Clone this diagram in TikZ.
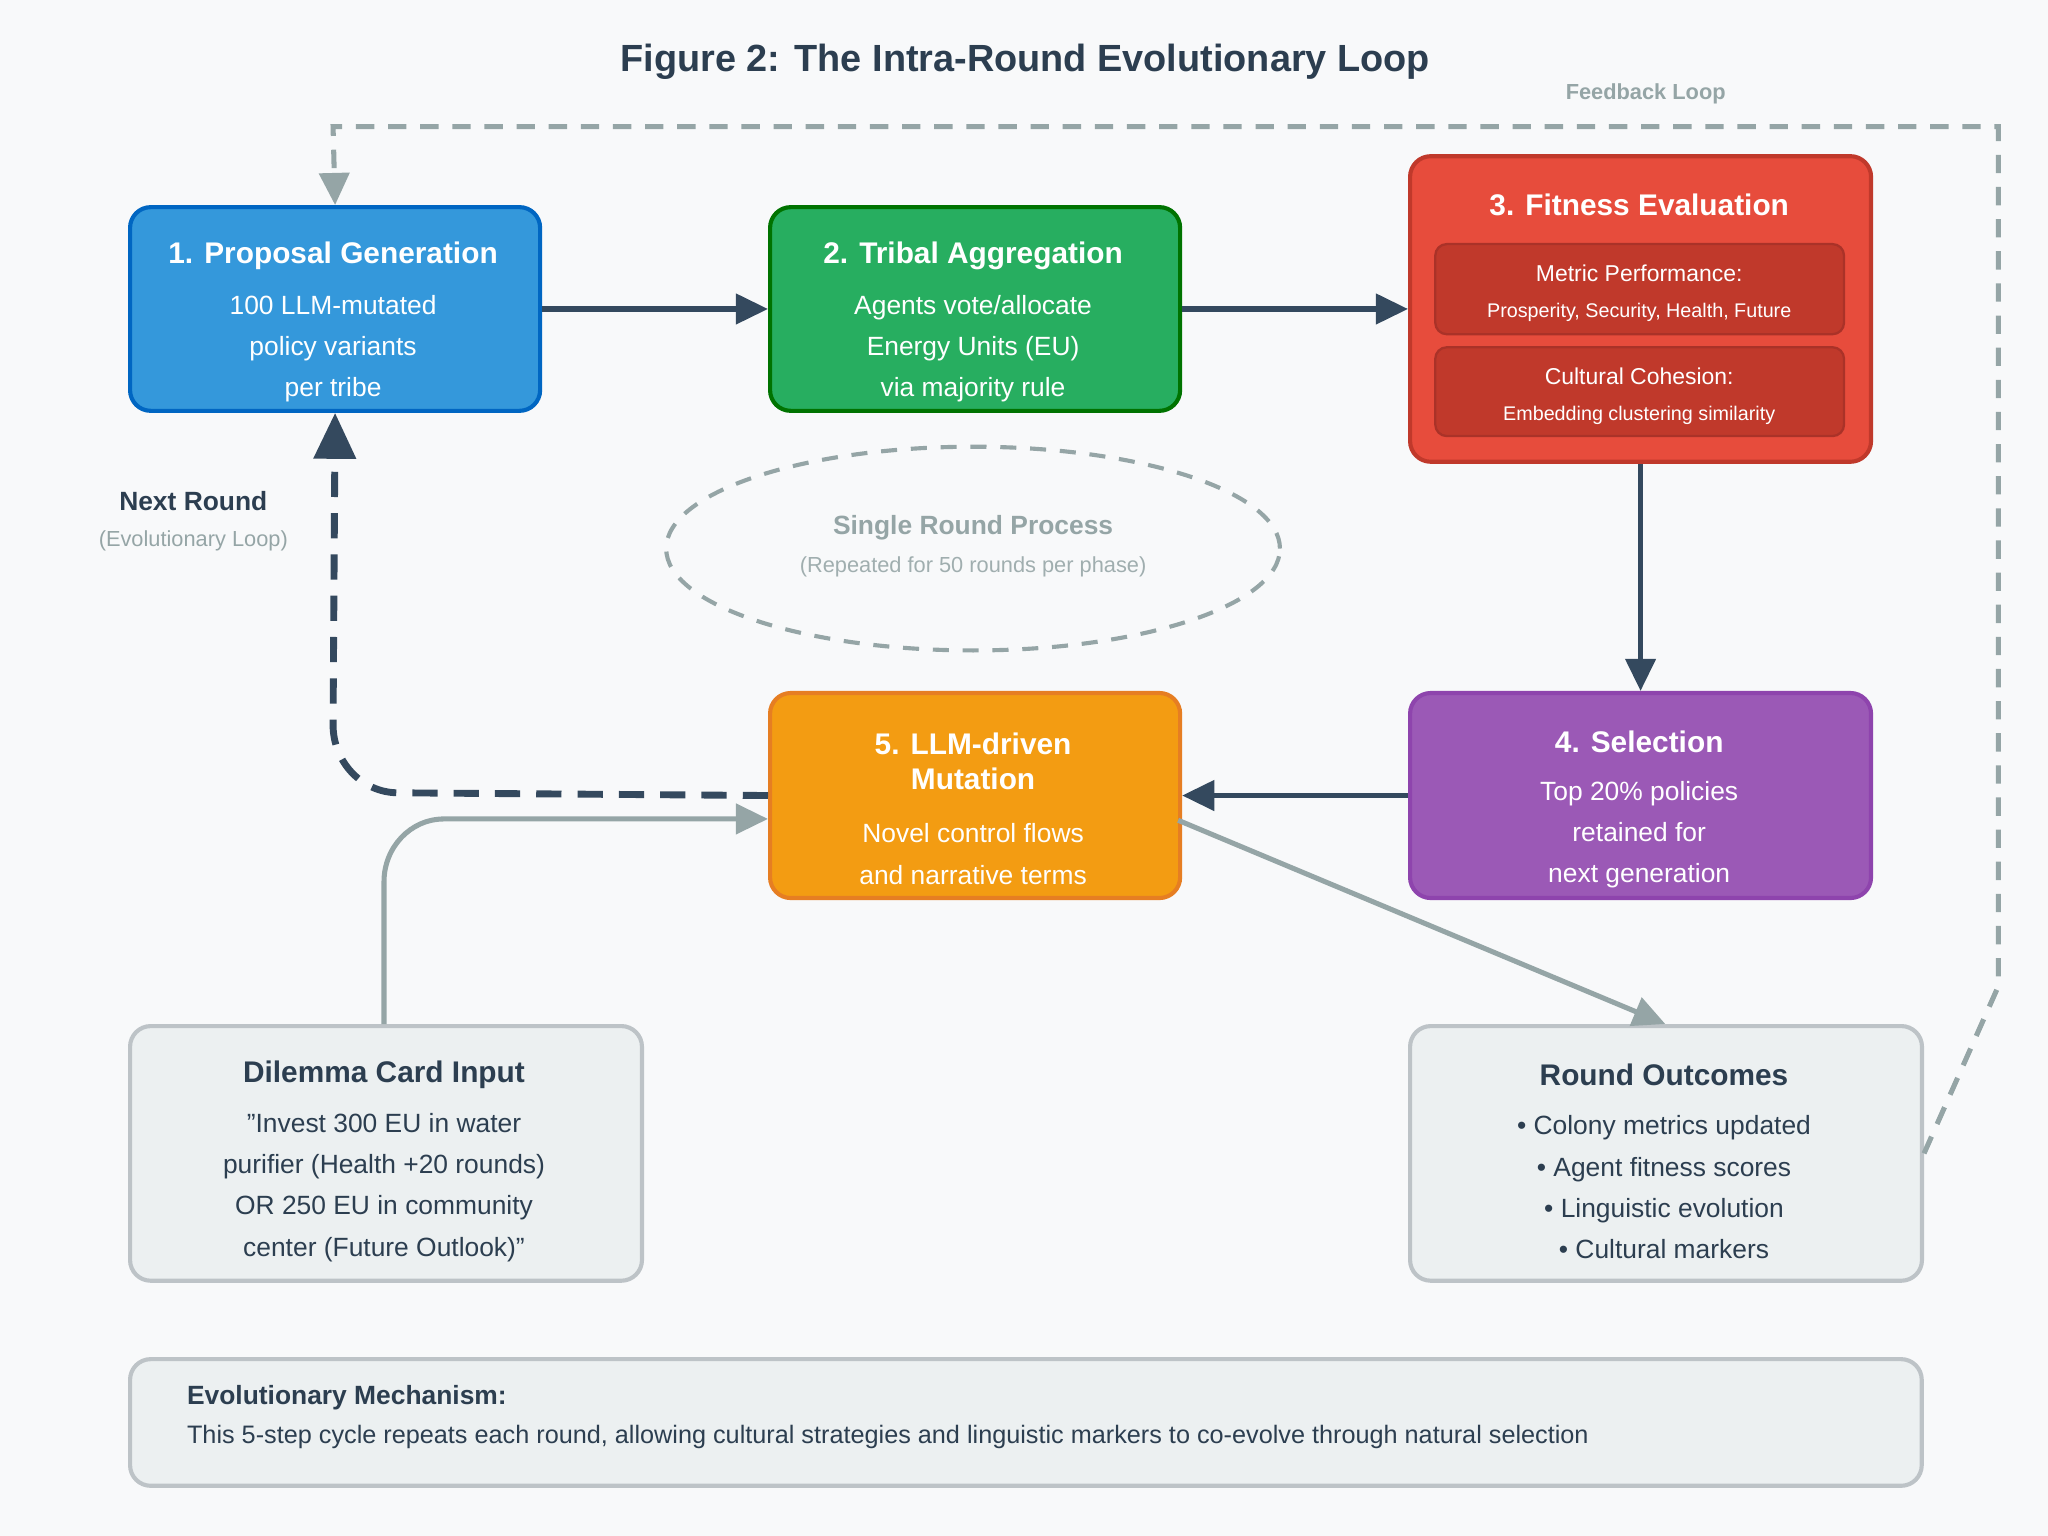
\documentclass[tikz,border=0pt]{standalone}
\usepackage{fontspec}
\setmainfont{Liberation Sans}
\usetikzlibrary{arrows.meta,positioning,calc,shapes.geometric}
\definecolor{bg}{HTML}{F8F9FA}
\definecolor{ink}{HTML}{2C3E50}
\definecolor{arr}{HTML}{34495E}
\definecolor{mute}{HTML}{95A5A6}
\definecolor{pale}{HTML}{ECF0F1}
\definecolor{paleb}{HTML}{BDC3C7}
\tikzset{
  step box/.style = {draw, line width=1.8pt, rounded corners=9pt, text=white, align=center, anchor=north west},
  grey box/.style = {draw=paleb, fill=pale, line width=1.8pt, rounded corners=9pt, text=ink, align=center, anchor=north west},
  inner box/.style = {draw=red!60!black!70, fill=red!55!black!50!red, line width=1pt, rounded corners=5pt, anchor=north west},
  flow/.style = {draw=arr, line width=2.2pt, -{Triangle[length=14pt,width=13pt]}},
  soft/.style = {draw=mute, line width=2.2pt, -{Triangle[length=14pt,width=13pt]}}
}
\begin{document}
\begin{tikzpicture}[x=0.02cm,y=-0.02cm]
\fill[bg] (0,0) rectangle (1568,1176);
\node[text=ink,font=\fontsize{16.5}{19}\selectfont\bfseries] (title) at (785,47) {Figure 2: The Intra-Round Evolutionary Loop};

% steps
\node[step box, draw=blue!60!black!60!cyan, fill={rgb,255:red,52;green,152;blue,219}, minimum width=6.28cm, minimum height=3.12cm] (prop) at (98,157) {};
\node[step box, draw=green!45!black, fill={rgb,255:red,39;green,174;blue,96}, minimum width=6.28cm, minimum height=3.12cm] (trib) at (588,157) {};
\node[step box, draw={rgb,255:red,192;green,57;blue,43}, fill={rgb,255:red,231;green,76;blue,60}, minimum width=7.06cm, minimum height=4.68cm] (fit) at (1078,118) {};
\node[step box, draw={rgb,255:red,142;green,68;blue,173}, fill={rgb,255:red,155;green,89;blue,182}, minimum width=7.06cm, minimum height=3.14cm] (sel) at (1078,529) {};
\node[step box, draw={rgb,255:red,230;green,126;blue,34}, fill={rgb,255:red,243;green,156;blue,18}, minimum width=6.28cm, minimum height=3.14cm] (mut) at (588,529) {};
\node[inner box, draw={rgb,255:red,170;green,50;blue,40}, fill={rgb,255:red,192;green,57;blue,43}, minimum width=6.26cm, minimum height=1.38cm] (met) at (1098,186) {};
\node[inner box, draw={rgb,255:red,170;green,50;blue,40}, fill={rgb,255:red,192;green,57;blue,43}, minimum width=6.26cm, minimum height=1.36cm] (coh) at (1098,265) {};

\tikzset{hd/.style={text=white,font=\fontsize{13}{15}\selectfont\bfseries,align=center},
         bd/.style={text=white,font=\fontsize{11.5}{15}\selectfont,align=center}}
\node[hd] at (255,196) {1. Proposal Generation};
\node[bd] at (255,267) {100 LLM-mutated\\[3pt]policy variants\\[3pt]per tribe};
\node[hd] at (745,196) {2. Tribal Aggregation};
\node[bd] at (745,267) {Agents vote/allocate\\[3pt]Energy Units (EU)\\[3pt]via majority rule};
\node[hd] at (1255,157) {3. Fitness Evaluation};
\node[bd,font=\fontsize{10}{12}\selectfont] at (1255,209) {Metric Performance:};
\node[bd,font=\fontsize{8.6}{10}\selectfont] at (1255,239) {Prosperity, Security, Health, Future};
\node[bd,font=\fontsize{10}{12}\selectfont] at (1255,288) {Cultural Cohesion:};
\node[bd,font=\fontsize{8.6}{10}\selectfont] at (1255,318) {Embedding clustering similarity};
\node[hd] at (1255,568) {4. Selection};
\node[bd] at (1255,639) {Top 20\% policies\\[3pt]retained for\\[3pt]next generation};
\node[hd] at (745,583) {5. LLM-driven\\Mutation};
\node[bd] at (745,654) {Novel control flows\\[3pt]and narrative terms};

% inputs and outcomes
\node[grey box, minimum width=7.84cm, minimum height=3.9cm] (dil) at (98,784) {};
\node[grey box, minimum width=7.84cm, minimum height=3.9cm] (out) at (1078,784) {};
\node[text=ink,font=\fontsize{13}{15}\selectfont\bfseries] at (294,823) {Dilemma Card Input};
\node[text=ink,font=\fontsize{11.5}{15}\selectfont,align=center] at (294,909) {"Invest 300 EU in water\\[3pt]purifier (Health +20 rounds)\\[3pt]OR 250 EU in community\\[3pt]center (Future Outlook)"};
\node[text=ink,font=\fontsize{13}{15}\selectfont\bfseries] at (1274,823) {Round Outcomes};
\node[text=ink,font=\fontsize{11.5}{15}\selectfont,align=center] at (1274,909) {• Colony metrics updated\\[3pt]• Agent fitness scores\\[3pt]• Linguistic evolution\\[3pt]• Cultural markers};
\node[grey box, minimum width=27.44cm, minimum height=1.94cm] (mech) at (98,1039) {};
\node[text=ink,font=\fontsize{11.5}{14}\selectfont\bfseries,anchor=west] at (137,1070) {Evolutionary Mechanism:};
\node[text=ink,font=\fontsize{11}{14}\selectfont,anchor=west] at (137,1100) {This 5-step cycle repeats each round, allowing cultural strategies and linguistic markers to co-evolve through natural selection};

% round ellipse
\node[ellipse, draw=mute, dashed, dash pattern=on 7pt off 6pt, line width=1.8pt, minimum width=9.4cm, minimum height=3.12cm] (single) at (745,420) {};
\node[text=mute,font=\fontsize{11.5}{14}\selectfont\bfseries] at (745,404) {Single Round Process};
\node[text=mute!90,font=\fontsize{9.5}{12}\selectfont] at (745,434) {(Repeated for 50 rounds per phase)};
\node[text=ink,font=\fontsize{11.5}{14}\selectfont\bfseries] at (148,384) {Next Round};
\node[text=mute,font=\fontsize{9.5}{12}\selectfont] at (148,414) {(Evolutionary Loop)};
\node[text=mute,font=\fontsize{9.5}{12}\selectfont\bfseries] at (1260,72) {Feedback Loop};

% connectors
\draw[flow] (prop.east) -- (trib.west);
\draw[flow] (trib.east) -- (fit.west |- trib.east);
\draw[flow] (fit.south) -- (sel.north);
\draw[flow] (sel.west) -- (mut.east);
\draw[flow, line width=3pt, dashed, dash pattern=on 11pt off 7pt, -{Triangle[length=20pt,width=18pt]}] (mut.west) -- (305,607) to[out=180,in=270] (255,555) -- (prop.south);
\coordinate (dilk) at (294,627);
\draw[soft] (dil.north -| dilk) -- (294,675) to[out=90,in=180] (340,627) -- (588,627);
\draw[soft] (902,628) -- (1275,784);
\draw[soft, dashed, dash pattern=on 8pt off 6pt] (out.east) -- (1530,755) -- (1530,97) -- (255,97) -- (prop.north);
\end{tikzpicture}
\end{document}
